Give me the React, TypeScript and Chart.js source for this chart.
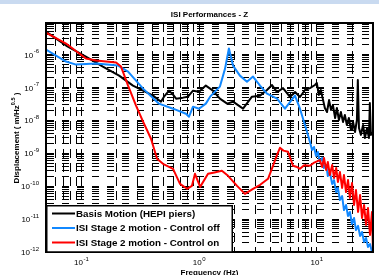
import React, { useEffect, useRef } from 'react';
import { Chart, registerables } from 'chart.js';

Chart.register(...registerables);

// ---------- data ----------
const chartTitle = 'ISI Performances - Z';
const xAxisTitle = 'Frequency (Hz)';
const yAxisTitleMain = 'Displacement ( m/Hz';
const yAxisTitleSup = '0.5';
const yAxisTitleEnd = ' )';

const seriesLabels = [
  'Basis Motion (HEPI piers)',
  'ISI Stage 2 motion - Control off',
  'ISI Stage 2 motion - Control on',
];
const seriesColors = ['#000000', '#1188ff', '#ff0000'];

const basisFreq = [
  0.05, 0.074, 0.109, 0.152, 0.209, 0.274, 0.334, 0.406, 0.474, 0.503, 0.555, 0.6, 0.637, 0.729, 0.804,
  0.887, 0.998, 1.14, 1.31, 1.5, 1.73, 1.94, 2.36, 2.81, 3.29, 3.77, 4.16, 4.59, 5.16, 5.91, 6.53, 7.19, 7.93, 8.74, 9.64,
  10.0, 10.4, 10.8, 11.3, 11.7, 12.2, 12.7, 13.2, 13.7, 14.3, 14.8, 15.4, 16.0, 16.7, 17.3, 18.0,
  18.7, 19.5, 20.3, 21.1, 21.9, 22.3, 22.8, 23.7, 24.7, 25.6, 26.7, 27.7, 28.2, 28.8, 30.0,
];
const basisVals = [
  4.9e-6, 1.86e-6, 8.6e-7, 4.27e-7, 2.27e-7, 1.13e-7, 7.94e-8, 5.6e-8, 3.67e-8, 5.22e-8, 7.94e-8, 6.0e-8, 4.54e-8, 4.87e-8, 5.22e-8,
  7.94e-8, 7.41e-8, 1.13e-7, 7.94e-8, 4.54e-8, 3.2e-8, 3.67e-8, 2.25e-8, 5.22e-8, 5.6e-8, 8.3e-8, 1.18e-7, 7.2e-8, 9.5e-8, 5.1e-8, 7.2e-8, 5.1e-8, 8.3e-8, 9.5e-8, 1.18e-7,
  1.35e-7, 5.9e-8, 8.3e-8, 4.1e-8, 2.36e-8, 1.78e-8, 4.1e-8, 2.05e-8, 2.9e-8, 1.17e-8, 2.36e-8, 1.02e-8, 1.78e-8, 8.9e-9, 1.45e-8, 7.2e-9,
  1.17e-8, 5.1e-9, 8.9e-9, 4.4e-9, 1.02e-8, 1.67e-7, 5.8e-9, 3.6e-9, 7.2e-9, 2.9e-9, 5.8e-9, 2.9e-9, 3.35e-8, 3.6e-9, 4.4e-9,
];

const offFreq = [
  0.05, 0.074, 0.09, 0.133, 0.205, 0.249, 0.334, 0.456, 0.6, 0.773, 0.82, 0.887, 0.998, 1.14, 1.24, 1.5,
  1.66, 1.79, 1.94, 2.22, 2.55, 2.87, 3.29, 3.77, 4.59, 5.36, 6.52, 7.19, 8.25,
  8.74, 9.1, 9.46, 9.84, 10.2, 10.6, 11.1, 11.5, 12.0, 12.4, 12.9, 13.5, 14.0, 14.6, 15.1, 15.7, 16.4,
  17.0, 17.7, 18.4, 19.1, 19.9, 20.7, 21.5, 22.4, 23.3, 24.2, 25.2, 26.2, 27.2, 28.3, 29.4,
];
const offVals = [
  1.41e-6, 6.07e-7, 4.91e-7, 5.27e-7, 4.58e-7, 3.01e-7, 9.14e-8, 3.2e-8, 2.25e-8, 1.58e-8, 1.28e-8, 2.59e-8, 2.25e-8, 3.2e-8, 5.22e-8, 1.05e-7,
  3.71e-7, 1.51e-6, 4.58e-7, 2.27e-7, 1.49e-7, 2.12e-7, 1.13e-7, 6.44e-8, 4.54e-8, 2.25e-8, 5.6e-8, 2.25e-8, 4.49e-9,
  2.19e-9, 1.25e-9, 1.55e-9, 8.2e-10, 1.09e-9, 5.4e-10, 7.2e-10, 3.56e-10, 4.4e-10, 2.03e-10, 2.7e-10, 1.16e-10, 1.53e-10, 6.6e-11, 8.8e-11, 3.8e-11, 5.0e-11,
  1.88e-11, 2.67e-11, 1.24e-11, 1.64e-11, 7.1e-12, 1.08e-11, 4.66e-12, 6.2e-12, 3.06e-12, 4.05e-12, 2.0e-12, 2.66e-12, 1.42e-12, 1.75e-12, 1.0e-12,
];

const onFreq = [
  0.05, 0.074, 0.109, 0.133, 0.197, 0.217, 0.249, 0.291, 0.334, 0.39, 0.439, 0.493, 0.6, 0.688, 0.789,
  0.869, 0.922, 1.02, 1.19, 1.35, 1.56, 1.76, 2.1, 2.45, 2.87, 3.3, 3.85, 4.24, 4.6, 4.86, 5.2, 5.69,
  6.27, 6.8, 7.19, 7.8, 8.74, 9.5,
  10.6, 11.1, 11.5, 12.0, 12.4, 12.9, 13.5, 14.0, 14.6, 15.1, 15.7, 16.4, 17.0, 17.7, 18.4, 19.1,
  19.9, 20.7, 21.5, 22.4, 23.3, 24.2, 25.2, 26.2, 27.2, 28.3, 29.4, 30.0,
];
const onVals = [
  4.6e-6, 2.14e-6, 7.5e-7, 6.5e-7, 5.65e-7, 4.27e-7, 1.13e-7, 2.78e-8, 9.05e-9, 2.75e-9, 6.78e-10, 4.77e-10, 3.36e-10, 1.17e-10, 8.3e-11,
  1.02e-10, 2.37e-10, 9.5e-11, 2.37e-10, 2.6e-10, 2.92e-10, 2.06e-10, 1.02e-10, 5.83e-11, 8.3e-11, 1.1e-10, 1.67e-10, 4.15e-10, 9.0e-10, 1.46e-9, 1.2e-9, 1.11e-9,
  4.15e-10, 3.8e-10, 3.36e-10, 4.3e-10, 4.15e-10, 5.2e-10,
  6.2e-10, 3.8e-10, 7.2e-10, 3.1e-10, 5.4e-10, 2.18e-10, 4.4e-10, 1.77e-10, 3.56e-10, 1.34e-10, 2.7e-10, 8.8e-11, 2.18e-10, 6.6e-11, 1.53e-10, 4.4e-11,
  1.24e-10, 2.67e-11, 7.6e-11, 1.64e-11, 5.4e-11, 1.08e-11, 2.67e-11, 6.6e-12, 2.17e-11, 3.3e-12, 1.64e-11, 1.0e-12,
];

// axis ticks
const xMin = 0.05;
const xMax = 30;
const yMin = 1e-12;
const yMax = 9e-6;
const xTickValues = [0.1, 1, 10];
const xTickExps = ['-1', '0', '1'];
const yTickValues = [1e-12, 1e-11, 1e-10, 1e-9, 1e-8, 1e-7, 1e-6];
const yTickExps = ['-12', '-11', '-10', '-9', '-8', '-7', '-6'];
const gridMantissas = [1, 2, 3, 4, 5, 6, 7, 8, 9];

function logGrid(min: number, max: number) {
  const out: number[] = [];
  for (let e = Math.floor(Math.log10(min)); e <= Math.ceil(Math.log10(max)); e++) {
    for (const m of gridMantissas) {
      const v = parseFloat((m * Math.pow(10, e)).toPrecision(6));
      if (v >= min * 0.999 && v <= max * 1.001) out.push(v);
    }
  }
  return out;
}

const FONT = '"Liberation Sans", Arial, Helvetica, sans-serif';

function drawPowLabel(ctx: CanvasRenderingContext2D, exp: string, x: number, y: number, align: 'right' | 'center') {
  ctx.save();
  ctx.fillStyle = '#000';
  ctx.textBaseline = 'middle';
  ctx.textAlign = 'left';
  ctx.font = `8px ${FONT}`;
  const wb = ctx.measureText('10').width;
  ctx.font = `6px ${FONT}`;
  const we = ctx.measureText(exp).width;
  const total = wb + we + 0.5;
  const start = align === 'right' ? x - total : x - total / 2;
  ctx.font = `8px ${FONT}`;
  ctx.fillText('10', start, y);
  ctx.font = `6px ${FONT}`;
  ctx.fillText(exp, start + wb + 0.5, y - 4);
  ctx.restore();
}

const decorPlugin = {
  id: 'decor',
  beforeDraw(chart: any) {
    const ctx = chart.ctx as CanvasRenderingContext2D;
    ctx.save();
    ctx.fillStyle = '#ffffff';
    ctx.fillRect(0, 0, chart.width, chart.height);
    ctx.fillStyle = '#c9daf0';
    ctx.fillRect(0, 0, chart.width, 4);
    ctx.restore();
  },
  afterDraw(chart: any) {
    const ctx = chart.ctx as CanvasRenderingContext2D;
    const area = chart.chartArea;
    const xs = chart.scales.x;
    const ys = chart.scales.y;
    ctx.save();
    // frame
    ctx.strokeStyle = '#000';
    ctx.lineWidth = 2;
    ctx.strokeRect(area.left, area.top, area.right - area.left, area.bottom - area.top);

    // tick labels
    yTickValues.forEach((v, i) => {
      drawPowLabel(ctx, yTickExps[i], area.left - 7, ys.getPixelForValue(v) + 1, 'right');
    });
    xTickValues.forEach((v, i) => {
      drawPowLabel(ctx, xTickExps[i], xs.getPixelForValue(v), area.bottom + 11, 'center');
    });

    // title
    const cx = (area.left + area.right) / 2;
    ctx.fillStyle = '#000';
    ctx.textAlign = 'center';
    ctx.textBaseline = 'middle';
    ctx.font = `bold 8px ${FONT}`;
    ctx.fillText(chartTitle, cx, 15);
    ctx.fillText(xAxisTitle, cx, area.bottom + 21);

    // y title
    ctx.save();
    ctx.translate(17, 138);
    ctx.rotate(-Math.PI / 2);
    ctx.textAlign = 'left';
    ctx.font = `bold 8px ${FONT}`;
    const w1 = ctx.measureText(yAxisTitleMain).width;
    const w3 = ctx.measureText(yAxisTitleEnd).width;
    ctx.font = `bold 5.5px ${FONT}`;
    const w2 = ctx.measureText(yAxisTitleSup).width;
    let px = -(w1 + w2 + w3) / 2;
    ctx.font = `bold 8px ${FONT}`;
    ctx.fillText(yAxisTitleMain, px, 0);
    px += w1;
    ctx.font = `bold 5.5px ${FONT}`;
    ctx.fillText(yAxisTitleSup, px, -3.5);
    px += w2;
    ctx.font = `bold 8px ${FONT}`;
    ctx.fillText(yAxisTitleEnd, px, 0);
    ctx.restore();

    // legend
    const lx = area.left;
    const ly = 205;
    const lw = 187;
    const lh = area.bottom - ly;
    ctx.fillStyle = '#fff';
    ctx.fillRect(lx, ly, lw, lh);
    ctx.strokeStyle = '#000';
    ctx.lineWidth = 1.5;
    ctx.strokeRect(lx + 0.75, ly + 0.75, lw - 1.5, lh - 0.75);
    chart.data.datasets.forEach((ds: any, i: number) => {
      const ry = ly + 8.5 + i * 14.5;
      ctx.strokeStyle = ds.borderColor;
      ctx.lineWidth = 2;
      ctx.beginPath();
      ctx.moveTo(lx + 6, ry);
      ctx.lineTo(lx + 29, ry);
      ctx.stroke();
      ctx.fillStyle = '#000';
      ctx.textAlign = 'left';
      ctx.textBaseline = 'middle';
      ctx.font = `bold 9.8px ${FONT}`;
      ctx.fillText(ds.label, lx + 30, ry + 0.5);
    });
    ctx.restore();
  },
};

export default function App() {
  const ref = useRef<HTMLCanvasElement>(null);
  useEffect(() => {
    if (!ref.current) return;
    const mk = (fs: number[], vs: number[]) => fs.map((f, i) => ({ x: f, y: vs[i] }));
    const xGrid = logGrid(xMin, xMax);
    const yGrid = logGrid(yMin, yMax);
    const chart = new Chart(ref.current, {
      type: 'line',
      data: {
        datasets: [
          { label: seriesLabels[0], data: mk(basisFreq, basisVals), borderColor: seriesColors[0], borderWidth: 2, pointRadius: 0, order: 3 },
          { label: seriesLabels[1], data: mk(offFreq, offVals), borderColor: seriesColors[1], borderWidth: 2, pointRadius: 0, order: 2 },
          { label: seriesLabels[2], data: mk(onFreq, onVals), borderColor: seriesColors[2], borderWidth: 2, pointRadius: 0, order: 1 },
        ],
      },
      options: {
        responsive: false,
        animation: false,
        devicePixelRatio: 1,
        layout: { padding: { left: 46, top: 23, right: 6, bottom: 23 } },
        plugins: { legend: { display: false }, tooltip: { enabled: false }, title: { display: false } },
        elements: { line: { tension: 0, borderJoinStyle: 'round' } },
        scales: {
          x: {
            type: 'logarithmic',
            min: xMin,
            max: xMax,
            afterBuildTicks: (s: any) => { s.ticks = xGrid.map((v) => ({ value: v })); },
            ticks: { display: false },
            grid: { color: '#000', lineWidth: 1, drawTicks: false },
            border: { display: false, dash: [9, 5] },
          },
          y: {
            type: 'logarithmic',
            min: yMin,
            max: yMax,
            afterBuildTicks: (s: any) => { s.ticks = yGrid.map((v) => ({ value: v })); },
            ticks: { display: false },
            grid: { color: '#000', lineWidth: 1, drawTicks: false },
            border: { display: false, dash: [7, 8], dashOffset: -1 },
          },
        },
      } as any,
      plugins: [decorPlugin],
    });
    return () => chart.destroy();
  }, []);
  return (
    <div style={{ position: 'absolute', left: 0, top: 0, width: 379, height: 275, background: '#fff' }}>
      <canvas ref={ref} width={379} height={275} style={{ display: 'block', width: 379, height: 275 }} />
    </div>
  );
}
